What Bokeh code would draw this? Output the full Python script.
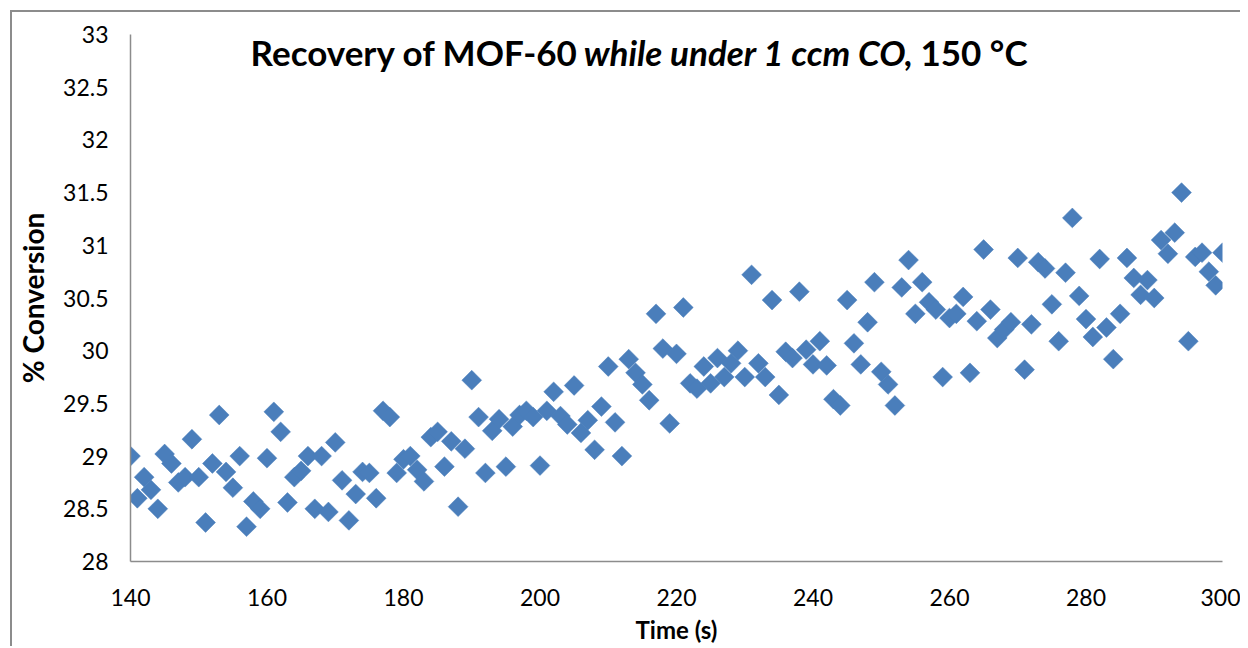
from bokeh.plotting import figure
from bokeh.models import Range1d, FixedTicker, Label
from bokeh.embed import file_html
from bokeh.resources import INLINE
import math

time_s = list(range(140, 301))
conversion = [
    29.00, 28.60, 28.80, 28.68, 28.50, 29.02, 28.93, 28.75, 28.80, 29.16,
    28.80, 28.37, 28.93, 29.39, 28.85, 28.70, 29.00, 28.33, 28.57, 28.50,
    28.98, 29.42, 29.23, 28.56, 28.80, 28.86, 29.00, 28.50, 29.00, 28.47,
    29.13, 28.77, 28.39, 28.64, 28.85, 28.84, 28.60, 29.43, 29.37, 28.84,
    28.97, 29.00, 28.87, 28.76, 29.18, 29.23, 28.90, 29.14, 28.52, 29.07,
    29.72, 29.37, 28.84, 29.24, 29.35, 28.90, 29.28, 29.39, 29.43, 29.37,
    28.91, 29.43, 29.61, 29.38, 29.30, 29.67, 29.22, 29.34, 29.06, 29.47,
    29.85, 29.32, 29.00, 29.92, 29.79, 29.68, 29.53, 30.35, 30.02, 29.31,
    29.97, 30.41, 29.69, 29.64, 29.85, 29.69, 29.93, 29.75, 29.88, 30.00,
    29.75, 30.72, 29.88, 29.75, 30.48, 29.58, 29.99, 29.93, 30.56, 30.01,
    29.87, 30.09, 29.86, 29.54, 29.48, 30.48, 30.07, 29.87, 30.27, 30.65,
    29.80, 29.68, 29.48, 30.60, 30.86, 30.35, 30.65, 30.46, 30.39, 29.75,
    30.31, 30.35, 30.51, 29.79, 30.28, 30.96, 30.39, 30.12, 30.20, 30.27,
    30.88, 29.82, 30.25, 30.84, 30.78, 30.44, 30.09, 30.74, 31.26, 30.52,
    30.30, 30.13, 30.87, 30.22, 29.92, 30.35, 30.88, 30.69, 30.53, 30.67,
    30.50, 31.05, 30.92, 31.12, 31.50, 30.09, 30.89, 30.93, 30.75, 30.62,
    30.93,
]
x_ticks = [140, 160, 180, 200, 220, 240, 260, 280, 300]
y_ticks = [28, 28.5, 29, 29.5, 30, 30.5, 31, 31.5, 32, 32.5, 33]
y_tick_labels = ["28", "28.5", "29", "29.5", "30", "30.5", "31", "31.5", "32", "32.5", "33"]

title_parts = ["Recovery of MOF-60", "while under 1 ccm CO", ", 150 °C"]

FONT = "Lato"
AXIS_GRAY = "#8c8c8c"
BLUE = "#4a7ebb"

p = figure(width=1240, height=646, output_backend="svg", toolbar_location=None,
           x_range=Range1d(140, 300), y_range=Range1d(28, 33),
           min_border_left=130, min_border_right=18, min_border_top=34, min_border_bottom=85)
p.border_fill_alpha = 0
p.background_fill_alpha = 0
p.outline_line_color = None
p.grid.grid_line_color = None
p.styles = {"background": "linear-gradient(#8c8c8c,#8c8c8c) 10px 10px / 2px 100% no-repeat, "
                          "linear-gradient(#8c8c8c,#8c8c8c) 10px 10px / 100% 2px no-repeat, white"}

p.scatter(time_s, conversion, marker="square", size=14, angle=math.pi / 4,
          fill_color=BLUE, line_color=BLUE, line_width=0.5)

for ax in (p.xaxis[0], p.yaxis[0]):
    ax.axis_line_color = AXIS_GRAY
    ax.axis_line_width = 1.5
    ax.major_tick_line_color = None
    ax.minor_tick_line_color = None
    ax.major_tick_out = 0
    ax.major_tick_in = 0
    ax.major_label_text_font = FONT
    ax.major_label_text_font_size = "23px"
    ax.major_label_text_color = "black"
    ax.axis_label_text_font = FONT
    ax.axis_label_text_font_style = "bold"
    ax.axis_label_text_color = "black"

p.xaxis.ticker = FixedTicker(ticks=x_ticks)
p.yaxis.ticker = FixedTicker(ticks=y_ticks)
p.yaxis.major_label_overrides = {t: l for t, l in zip(y_ticks, y_tick_labels)}
p.xaxis.major_label_standoff = 27
p.yaxis.major_label_standoff = 22
p.xaxis.axis_label = "Time (s)"
p.xaxis.axis_label_text_font_size = "24px"
p.xaxis.axis_label_standoff = 6
p.yaxis.axis_label = "% Conversion"
p.yaxis.axis_label_text_font_size = "28px"
p.yaxis.axis_label_standoff = 10

# Title in three runs (bold / bold italic / bold)
title_x = [157.6, 206.4, 253.3]
title_styles = ["bold", "bold italic", "bold"]
for txt, tx, st in zip(title_parts, title_x, title_styles):
    p.add_layout(Label(x=tx, y=32.83, text=txt, text_font=FONT, text_font_size="35px",
                       text_font_style=st, text_color="black", text_baseline="middle",
                       text_align="left"))

open("out.html", "w").write(file_html(p, INLINE))
